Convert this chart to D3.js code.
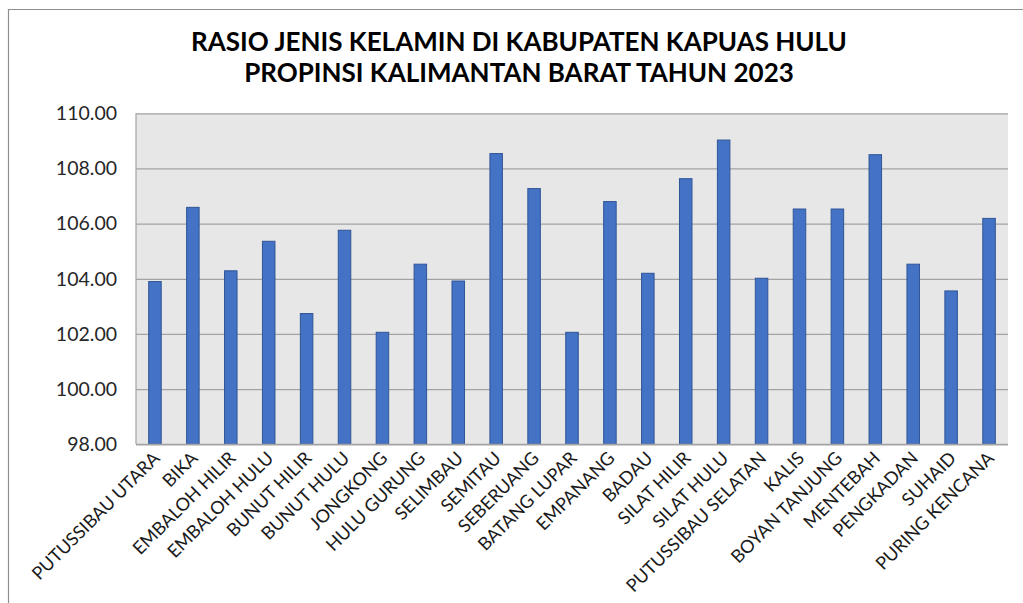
<!DOCTYPE html>
<html>
<head>
    <title>Rasio Jenis Kelamin Kapuas Hulu 2023</title>
    <script src="https://d3js.org/d3.v7.min.js"></script>
    <style>
        body { margin: 0; background: #fff; }
        text { font-family: 'Lato', 'Open Sans', sans-serif; }
    </style>
</head>
<body>
    <svg id="chart" width="1023" height="603"></svg>
    <script type="text/javascript">
        // Data
        var kecamatan = [
            "PUTUSSIBAU UTARA", "BIKA", "EMBALOH HILIR", "EMBALOH HULU", "BUNUT HILIR",
            "BUNUT HULU", "JONGKONG", "HULU GURUNG", "SELIMBAU", "SEMITAU",
            "SEBERUANG", "BATANG LUPAR", "EMPANANG", "BADAU", "SILAT HILIR",
            "SILAT HULU", "PUTUSSIBAU SELATAN", "KALIS", "BOYAN TANJUNG", "MENTEBAH",
            "PENGKADAN", "SUHAID", "PURING KENCANA"
        ];
        var rasio = [
            103.90, 106.59, 104.29, 105.36, 102.74,
            105.76, 102.06, 104.53, 103.92, 108.54,
            107.27, 102.06, 106.80, 104.20, 107.63,
            109.03, 104.02, 106.53, 106.53, 108.50,
            104.53, 103.56, 106.19
        ];
        var yTicks = [98, 100, 102, 104, 106, 108, 110];
        var titleLines = [
            "RASIO JENIS KELAMIN DI KABUPATEN KAPUAS HULU",
            "PROPINSI KALIMANTAN BARAT TAHUN 2023"
        ];

        var width = 1023, height = 603;
        var plot = { left: 136, right: 1008, top: 113.3, bottom: 444.3 };

        var svg = d3.select("#chart");

        // outer chart border (only top and left visible in the frame)
        svg.append("path")
            .attr("d", "M8.5," + height + "V9.5H" + width)
            .attr("fill", "none")
            .attr("stroke", "#8e8e8e")
            .attr("stroke-width", 1.2);

        // title
        svg.append("g").selectAll("text")
            .data(titleLines)
            .enter().append("text")
            .attr("x", 519)
            .attr("y", function(d, i) { return 51 + i * 31; })
            .attr("text-anchor", "middle")
            .style("font-weight", "bold")
            .style("font-size", "26px")
            .style("fill", "#000")
            .text(function(d) { return d; });

        var x = d3.scaleBand()
            .domain(kecamatan)
            .range([plot.left, plot.right])
            .paddingInner(0.67)
            .paddingOuter(0.335);

        var y = d3.scaleLinear()
            .domain([98, 110])
            .range([plot.bottom, plot.top]);

        // plot background
        svg.append("rect")
            .attr("x", plot.left)
            .attr("y", plot.top)
            .attr("width", plot.right - plot.left)
            .attr("height", plot.bottom - plot.top)
            .attr("fill", "#e7e7e7");

        // gridlines
        svg.append("g")
            .attr("transform", "translate(" + plot.left + ",0)")
            .call(d3.axisLeft(y).tickValues(yTicks).tickSize(-(plot.right - plot.left)).tickFormat(""))
            .call(function(g) {
                g.select(".domain").remove();
                g.selectAll("line").attr("stroke", "#a3a3a3").attr("stroke-width", 1.2);
            });

        // left edge of plot
        svg.append("line")
            .attr("x1", plot.left).attr("x2", plot.left)
            .attr("y1", plot.top).attr("y2", plot.bottom)
            .attr("stroke", "#a3a3a3")
            .attr("stroke-width", 1.2);

        // y tick labels
        svg.append("g")
            .attr("transform", "translate(117,0)")
            .call(d3.axisLeft(y).tickValues(yTicks).tickSize(0).tickPadding(0).tickFormat(d3.format(".2f")))
            .call(function(g) {
                g.select(".domain").remove();
                g.selectAll("text")
                    .style("font-family", "Lato, sans-serif")
                    .style("font-size", "19.5px")
                    .style("fill", "#262626");
            });

        // bars
        svg.append("g").selectAll("rect")
            .data(rasio)
            .enter().append("rect")
            .attr("x", function(d, i) { return x(kecamatan[i]); })
            .attr("y", function(d) { return y(d); })
            .attr("width", x.bandwidth())
            .attr("height", function(d) { return y(98) - y(d); })
            .attr("fill", "#4472c4")
            .attr("stroke", "#2f5597")
            .attr("stroke-width", 1);

        // x axis line
        svg.append("line")
            .attr("x1", plot.left).attr("x2", plot.right)
            .attr("y1", plot.bottom).attr("y2", plot.bottom)
            .attr("stroke", "#a3a3a3")
            .attr("stroke-width", 1.2);

        // category labels, rotated
        svg.append("g").selectAll("text")
            .data(kecamatan)
            .enter().append("text")
            .attr("transform", function(d) {
                var cx = x(d) + x.bandwidth() / 2 + 6;
                return "translate(" + cx + "," + (plot.bottom + 15) + ") rotate(-45)";
            })
            .attr("text-anchor", "end")
            .style("font-size", "18px")
            .style("fill", "#1a1a1a")
            .text(function(d) { return d; });
    </script>
</body>
</html>
